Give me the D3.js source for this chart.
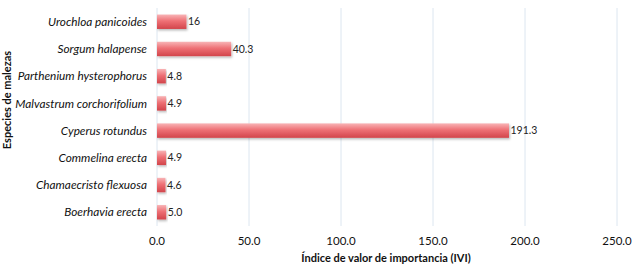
<!DOCTYPE html>
<html lang="es">
<head>
  <meta charset="UTF-8">
  <title>Índice de valor de importancia</title>
  <script src="https://d3js.org/d3.v7.min.js"></script>
  <style>
    body {
      margin: 0;
      background: #fff;
      font-family: Lato, "Open Sans", sans-serif;
    }
    svg { display: block; }
  </style>
</head>
<body>
  <div id="chart"></div>

  <script>
    // species (top to bottom) and their IVI values
    const species = [
      "Urochloa panicoides",
      "Sorgum halapense",
      "Parthenium hysterophorus",
      "Malvastrum corchorifolium",
      "Cyperus rotundus",
      "Commelina erecta",
      "Chamaecristo flexuosa",
      "Boerhavia erecta"
    ];
    const ivi = [16, 40.3, 4.8, 4.9, 191.3, 4.9, 4.6, 5.0];
    const valueLabels = ["16", "40.3", "4.8", "4.9", "191.3", "4.9", "4.6", "5.0"];
    const xTicks = [0, 50, 100, 150, 200, 250];

    const width = 634;
    const height = 270;
    const margin = { top: 8, right: 17, bottom: 44, left: 157 };

    const svg = d3.select("#chart")
      .append("svg")
      .attr("width", width)
      .attr("height", height);

    const defs = svg.append("defs");
    const grad = defs.append("linearGradient")
      .attr("id", "barGrad")
      .attr("x1", 0).attr("y1", 0)
      .attr("x2", 0).attr("y2", 1);
    grad.append("stop").attr("offset", "0%").attr("stop-color", "#f8b4b6");
    grad.append("stop").attr("offset", "45%").attr("stop-color", "#ee7075");
    grad.append("stop").attr("offset", "100%").attr("stop-color", "#d2454b");

    const shadow = defs.append("filter")
      .attr("id", "shadow")
      .attr("x", "-5%").attr("y", "-20%")
      .attr("width", "115%").attr("height", "160%");
    shadow.append("feDropShadow")
      .attr("dx", 1).attr("dy", 1.5)
      .attr("stdDeviation", 1)
      .attr("flood-color", "#000")
      .attr("flood-opacity", 0.28);

    const x = d3.scaleLinear()
      .domain([0, 250])
      .range([margin.left, width - margin.right]);

    const y = d3.scaleBand()
      .domain(species)
      .range([margin.top, height - margin.bottom])
      .paddingInner(0.47)
      .paddingOuter(0.24);

    // vertical gridlines
    svg.append("g")
      .selectAll("line")
      .data(xTicks)
      .enter()
      .append("line")
      .attr("x1", d => x(d))
      .attr("x2", d => x(d))
      .attr("y1", margin.top)
      .attr("y2", height - margin.bottom)
      .attr("stroke", "#dce6f0")
      .attr("stroke-width", 1);

    // bars
    svg.append("g")
      .selectAll("rect")
      .data(species)
      .enter()
      .append("rect")
      .attr("x", x(0))
      .attr("y", d => y(d))
      .attr("width", (d, i) => x(ivi[i]) - x(0))
      .attr("height", y.bandwidth())
      .attr("fill", "url(#barGrad)")
      .attr("filter", "url(#shadow)");

    // value labels
    svg.append("g")
      .selectAll("text")
      .data(species)
      .enter()
      .append("text")
      .attr("x", (d, i) => x(ivi[i]) + 1.5)
      .attr("y", d => y(d) + y.bandwidth() / 2)
      .attr("dy", "0.35em")
      .style("font-size", "10.5px")
      .style("fill", "#222")
      .text((d, i) => valueLabels[i]);

    // category labels
    svg.append("g")
      .selectAll("text")
      .data(species)
      .enter()
      .append("text")
      .attr("x", margin.left - 10)
      .attr("y", d => y(d) + y.bandwidth() / 2)
      .attr("dy", "0.35em")
      .attr("text-anchor", "end")
      .style("font-size", "11.8px")
      .style("font-style", "italic")
      .style("fill", "#111")
      .text(d => d);

    // x tick labels
    svg.append("g")
      .selectAll("text")
      .data(xTicks)
      .enter()
      .append("text")
      .attr("x", d => x(d))
      .attr("y", 245)
      .attr("text-anchor", "middle")
      .style("font-size", "11.5px")
      .style("fill", "#111")
      .text(d => d3.format(".1f")(d));

    // axis titles
    svg.append("text")
      .attr("x", 386)
      .attr("y", 262)
      .attr("text-anchor", "middle")
      .style("font-size", "11px")
      .style("font-weight", "bold")
      .style("fill", "#111")
      .text("Índice de valor de importancia (IVI)");

    svg.append("text")
      .attr("transform", "translate(11,100) rotate(-90)")
      .attr("text-anchor", "middle")
      .style("font-size", "11px")
      .style("font-weight", "bold")
      .style("fill", "#111")
      .text("Especies de malezas");
  </script>
</body>
</html>
